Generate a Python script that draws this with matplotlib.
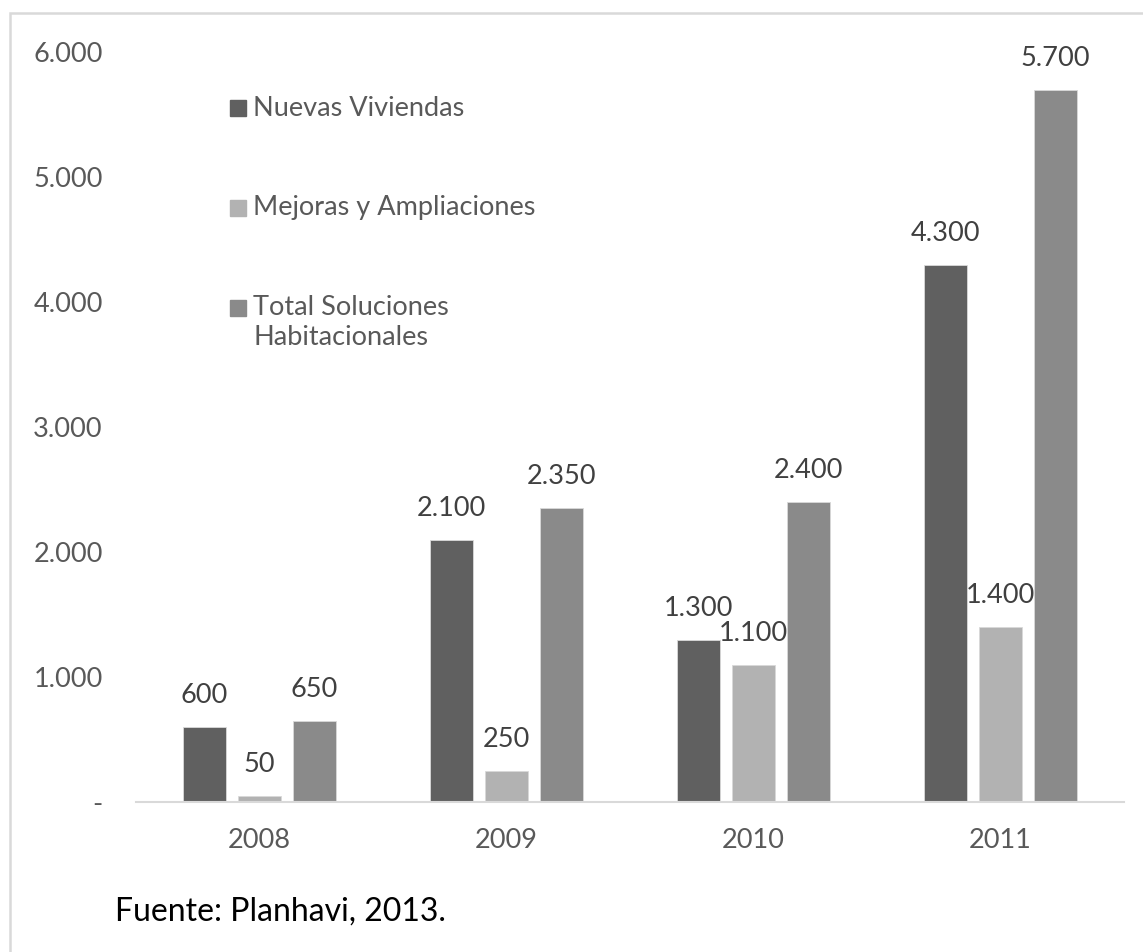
import numpy as np
import matplotlib
matplotlib.use("Agg")
import matplotlib.pyplot as plt
from matplotlib.patches import Rectangle

years = ["2008", "2009", "2010", "2011"]
nuevas = [600, 2100, 1300, 4300]
mejoras = [50, 250, 1100, 1400]
total = [650, 2350, 2400, 5700]
series_names = ["Nuevas Viviendas", "Mejoras y Ampliaciones", "Total Soluciones\nHabitacionales"]
colors = ["#606060", "#b2b2b2", "#8a8a8a"]
yticks = [0, 1000, 2000, 3000, 4000, 5000, 6000]
ytick_labels = ["-", "1.000", "2.000", "3.000", "4.000", "5.000", "6.000"]

plt.rcParams["font.family"] = ["Lato", "DejaVu Sans"]

W, H = 1143, 952
FS = 19.5
fig = plt.figure(figsize=(W / 100, H / 100), dpi=100)
ax = fig.add_axes([136 / W, 1 - 802 / H, (1124 - 136) / W, (802 - 52) / H])

x = np.arange(len(years))
step = 0.2227
width = 0.174

def fmt(v):
    return f"{v:,}".replace(",", ".")

for i, (vals, col) in enumerate(zip([nuevas, mejoras, total], colors)):
    pos = x + (i - 1) * step
    bars = ax.bar(pos, vals, width, color=col, edgecolor="#d9d9d9", linewidth=0.6, zorder=2)
    for b, v in zip(bars, vals):
        ax.annotate(fmt(v), (b.get_x() + b.get_width() / 2, v), xytext=(0, 22.5),
                    textcoords="offset points", ha="center", va="center",
                    fontsize=FS, color="#404040")

ax.set_xlim(-0.5, 3.5)
ax.set_ylim(0, 6000)
ax.set_xticks(x)
ax.set_xticklabels(years)
ax.set_yticks(yticks)
ax.set_yticklabels(ytick_labels)
ax.tick_params(length=0, labelsize=FS, colors="#595959")
ax.tick_params(axis="y", pad=24)
ax.tick_params(axis="x", pad=19)
for s in ["top", "right", "left"]:
    ax.spines[s].set_visible(False)
ax.spines["bottom"].set_color("#d9d9d9")
ax.spines["bottom"].set_linewidth(1.5)

# legend drawn by hand
leg_y = [108, 208, 308]
for name, col, yy in zip(series_names, colors, leg_y):
    fig.add_artist(Rectangle((230 / W, 1 - (yy + 8) / H), 16 / W, 16 / H,
                             transform=fig.transFigure, color=col))
    if "\n" in name:
        fig.text(253 / W, 1 - (yy - 13) / H, name, fontsize=FS, color="#595959",
                 va="top", linespacing=1.25)
    else:
        fig.text(253 / W, 1 - yy / H, name, fontsize=FS, color="#595959", va="center")

fig.text(115 / W, 1 - 912 / H, "Fuente: Planhavi, 2013.", fontsize=23, color="black",
         va="center")

# outer frame
fig.add_artist(Rectangle((10 / W, -0.1), 1.2, 1 - 13 / H + 0.1, transform=fig.transFigure,
                         fill=False, edgecolor="#d9d9d9", linewidth=1.8))

fig.savefig("out.png", dpi=100)
